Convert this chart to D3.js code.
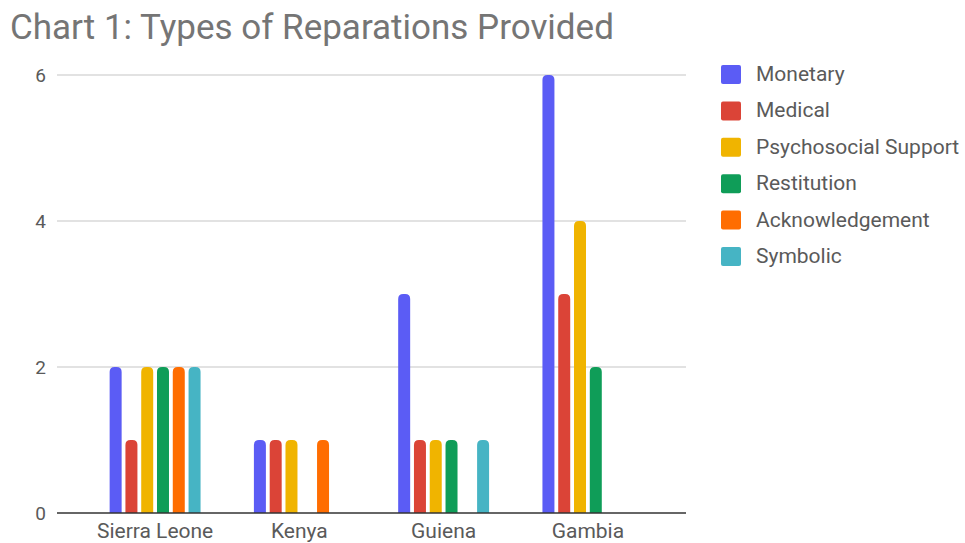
<!DOCTYPE html>
<html>
<head>
<meta charset="utf-8">
<script src="https://cdn.jsdelivr.net/npm/d3@7"></script>
<style>
  body { margin: 0; background: #fff; }
  svg { font-family: Roboto, "Noto Sans", sans-serif; }
</style>
</head>
<body>
<svg width="965" height="543"></svg>
<script>
// chart values
var countries = ["Sierra Leone", "Kenya", "Guiena", "Gambia"];
var types = ["Monetary", "Medical", "Psychosocial Support", "Restitution", "Acknowledgement", "Symbolic"];
var monetary = [2, 1, 3, 6];
var medical = [1, 1, 1, 3];
var psychosocial = [2, 1, 1, 4];
var restitution = [2, 0, 1, 2];
var acknowledgement = [2, 1, 0, 0];
var symbolic = [2, 0, 1, 0];
var yTicks = [0, 2, 4, 6];
var colors = ["#5b5cf5", "#db4437", "#f0b400", "#0f9d58", "#ff6d01", "#46b4c4"];

var series = [monetary, medical, psychosocial, restitution, acknowledgement, symbolic];

var svg = d3.select("svg");

var plotLeft = 57, plotRight = 686, plotTop = 75, plotBottom = 513;

var x0 = d3.scaleBand().domain(countries).range([plotLeft, plotRight]).paddingInner(0).paddingOuter(0.18);
var x1 = d3.scaleBand().domain(types).range([0, x0.bandwidth()]).paddingInner(0.24).paddingOuter(1.69);
var y = d3.scaleLinear().domain([0, 6]).range([plotBottom, plotTop]);
var color = d3.scaleOrdinal().domain(types).range(colors);

svg.append("text")
    .attr("x", 10)
    .attr("y", 39)
    .attr("fill", "#757575")
    .style("font-size", "35px")
    .text("Chart 1: Types of Reparations Provided");

// gridlines
svg.append("g")
    .selectAll("line")
    .data(yTicks.filter(function (d) { return d > 0; }))
    .enter()
    .append("line")
    .attr("x1", plotLeft)
    .attr("x2", plotRight)
    .attr("y1", function (d) { return y(d); })
    .attr("y2", function (d) { return y(d); })
    .attr("stroke", "#d9d9d9")
    .attr("stroke-width", 1.5);

// y tick labels
svg.append("g")
    .selectAll("text")
    .data(yTicks)
    .enter()
    .append("text")
    .attr("x", 46)
    .attr("y", function (d) { return y(d) + 7; })
    .attr("text-anchor", "end")
    .attr("fill", "#5a5a5a")
    .style("font-size", "19px")
    .text(function (d) { return d; });

// bars with rounded tops
function barPath(xs, w, y0, y1, r) {
    r = Math.min(r, w / 2, y0 - y1);
    return "M" + xs + "," + y0 +
        "V" + (y1 + r) +
        "Q" + xs + "," + y1 + " " + (xs + r) + "," + y1 +
        "H" + (xs + w - r) +
        "Q" + (xs + w) + "," + y1 + " " + (xs + w) + "," + (y1 + r) +
        "V" + y0 + "Z";
}

var bars = [];
countries.forEach(function (c, i) {
    types.forEach(function (t, j) {
        if (series[j][i] > 0) bars.push({ country: c, type: t, value: series[j][i] });
    });
});

svg.append("g")
    .selectAll("path")
    .data(bars)
    .enter()
    .append("path")
    .attr("fill", function (d) { return color(d.type); })
    .attr("d", function (d) {
        var xs = x0(d.country) + x1(d.type);
        return barPath(xs, x1.bandwidth(), y(0), y(d.value), 5);
    });

// baseline
svg.append("line")
    .attr("x1", plotLeft)
    .attr("x2", plotRight)
    .attr("y1", y(0))
    .attr("y2", y(0))
    .attr("stroke", "#333")
    .attr("stroke-width", 1.5);

// x labels
svg.append("g")
    .selectAll("text")
    .data(countries)
    .enter()
    .append("text")
    .attr("x", function (d) { return x0(d) + x0.bandwidth() / 2; })
    .attr("y", 538)
    .attr("text-anchor", "middle")
    .attr("fill", "#5a5a5a")
    .style("font-size", "21px")
    .text(function (d) { return d; });

// legend
var legend = svg.append("g")
    .selectAll("g")
    .data(types)
    .enter()
    .append("g")
    .attr("transform", function (d, i) { return "translate(721," + (74 + i * 36.4) + ")"; });

legend.append("rect")
    .attr("x", 0)
    .attr("y", -9)
    .attr("width", 20)
    .attr("height", 19)
    .attr("rx", 2)
    .attr("fill", function (d) { return color(d); });

legend.append("text")
    .attr("x", 35)
    .attr("y", 7)
    .attr("fill", "#5a5a5a")
    .style("font-size", "21px")
    .text(function (d) { return d; });
</script>
</body>
</html>
